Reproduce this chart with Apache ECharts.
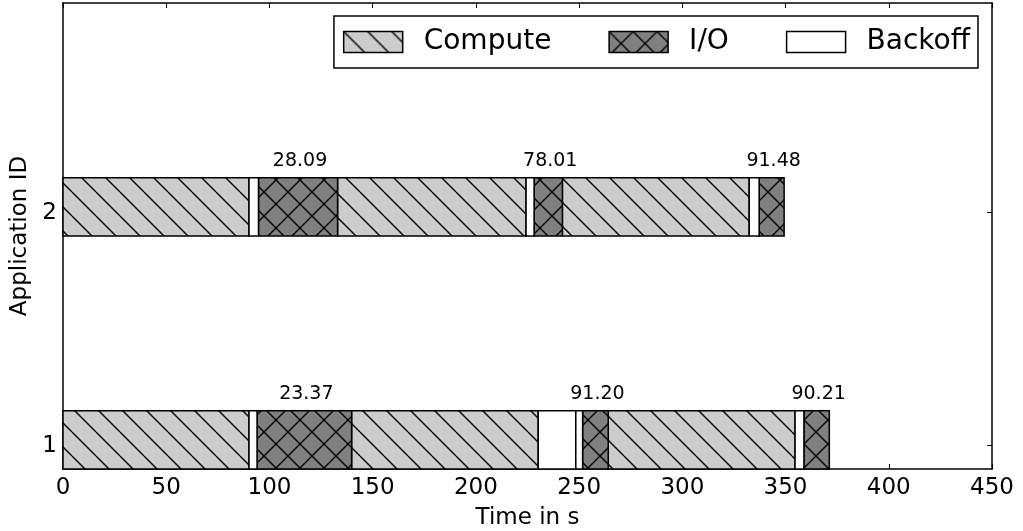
<!DOCTYPE html>
<html>
<head>
<meta charset="utf-8">
<script src="https://cdn.jsdelivr.net/npm/echarts@6/dist/echarts.min.js"></script>
<style>
  html, body { margin: 0; padding: 0; background: #fff; }
  #chart { width: 1023px; height: 531px; }
</style>
</head>
<body>
<div id="chart"></div>
<script>
// y axis: application ids
const appIds = [1, 2]

// segments of application 1, [start, end] in seconds
const compute1 = [[0, 90.1], [139.8, 230.2], [264.1, 354.6]]
const io1 = [[94.0, 139.8], [251.7, 264.1], [358.9, 371.2]]
const backoff1 = [[90.1, 94.0], [230.2, 248.4], [248.4, 251.7], [354.6, 358.9]]
const ioLabels1 = ['23.37', '91.20', '90.21']

// segments of application 2
const compute2 = [[0, 90.1], [133.0, 224.3], [241.9, 332.4]]
const io2 = [[94.7, 133.0], [228.2, 241.9], [337.2, 349.3]]
const backoff2 = [[90.1, 94.7], [224.3, 228.2], [332.4, 337.2]]
const ioLabels2 = ['28.09', '78.01', '91.48']

const FONT = 'DejaVu Sans'

// hatch fill like matplotlib's '\\' and 'x'
function hatch(bg, cross) {
  const s = 24
  const c = document.createElement('canvas')
  c.width = s
  c.height = s
  const ctx = c.getContext('2d')
  ctx.fillStyle = bg
  ctx.fillRect(0, 0, s, s)
  ctx.strokeStyle = '#000'
  ctx.lineWidth = 1.4
  ctx.beginPath()
  for (let k = -1; k <= 1; k++) {
    ctx.moveTo(k * s, 0)
    ctx.lineTo(k * s + s, s)
    if (cross) {
      ctx.moveTo(k * s, s)
      ctx.lineTo(k * s + s, 0)
    }
  }
  ctx.stroke()
  return { image: c, repeat: 'repeat' }
}

const fills = {
  Compute: hatch('#cccccc', false),
  'I/O': hatch('#808080', true),
  Backoff: '#ffffff'
}

function rows(app, segs) {
  return segs.map(s => [app, s[0], s[1]])
}

function makeSeries(name, data, labels) {
  const fill = fills[name]
  return {
    name: name,
    type: 'custom',
    itemStyle: { color: fill, borderColor: '#000', borderWidth: 1.5 },
    encode: { x: [1, 2], y: 0 },
    data: data,
    renderItem: (params, api) => {
      const y = api.value(0)
      const p0 = api.coord([api.value(1), y + 0.15])
      const p1 = api.coord([api.value(2), y - 0.1])
      const rect = {
        type: 'rect',
        shape: { x: p0[0], y: p0[1], width: p1[0] - p0[0], height: p1[1] - p0[1] },
        style: { fill: fill, stroke: '#000', lineWidth: 1.5 }
      }
      if (!labels) return rect
      return {
        type: 'group',
        children: [
          rect,
          {
            type: 'text',
            style: {
              x: (p0[0] + p1[0]) / 2 + 2,
              y: p0[1] - 17,
              text: labels[params.dataIndex],
              fill: '#000',
              font: '19px "' + FONT + '"',
              align: 'center',
              verticalAlign: 'middle'
            }
          }
        ]
      }
    }
  }
}

const chart = echarts.init(document.getElementById('chart'))

const axisLine = { show: true, lineStyle: { color: '#000', width: 1.5 } }
const tickStyle = { inside: true, length: 5, lineStyle: { color: '#000', width: 1 } }

chart.setOption({
  animation: false,
  backgroundColor: '#fff',
  grid: { left: 63, right: 31, top: 3, bottom: 62, containLabel: false, outerBoundsMode: 'none' },
  legend: {
    right: 45,
    top: 16,
    data: ['Compute', 'I/O', 'Backoff'],
    icon: 'rect',
    itemWidth: 59,
    itemHeight: 21,
    itemGap: 57,
    borderColor: '#000',
    borderWidth: 1.5,
    padding: [12, 8, 12, 9],
    selectedMode: false,
    itemStyle: { borderColor: '#000', borderWidth: 1.5 },
    textStyle: { fontSize: 28, color: '#000', fontFamily: FONT, padding: [0, 0, 0, 16] }
  },
  xAxis: [
    {
      type: 'value',
      position: 'bottom',
      min: 0,
      max: 450,
      interval: 50,
      name: 'Time in s',
      nameLocation: 'middle',
      nameGap: 38,
      nameTextStyle: { fontSize: 23, color: '#000', fontFamily: FONT },
      axisLine: { ...axisLine, onZero: false },
      axisTick: tickStyle,
      axisLabel: { fontSize: 23, color: '#000', fontFamily: FONT, margin: 8 },
      splitLine: { show: false }
    },
    {
      type: 'value',
      position: 'top',
      min: 0,
      max: 450,
      interval: 50,
      axisLine: { ...axisLine, onZero: false },
      axisTick: tickStyle,
      axisLabel: { show: false },
      splitLine: { show: false }
    }
  ],
  yAxis: [
    {
      type: 'value',
      position: 'left',
      min: 0.9,
      max: 2.9,
      name: 'Application ID',
      nameLocation: 'middle',
      nameGap: 28,
      nameTextStyle: { fontSize: 23, color: '#000', fontFamily: FONT },
      axisLine: { ...axisLine, onZero: false },
      axisTick: { ...tickStyle, customValues: appIds },
      axisLabel: { fontSize: 23, color: '#000', fontFamily: FONT, margin: 6, customValues: appIds },
      splitLine: { show: false }
    },
    {
      type: 'value',
      position: 'right',
      min: 0.9,
      max: 2.9,
      axisLine: { ...axisLine, onZero: false },
      axisTick: { ...tickStyle, customValues: appIds },
      axisLabel: { show: false },
      splitLine: { show: false }
    }
  ],
  series: [
    makeSeries('Compute', rows(1, compute1).concat(rows(2, compute2))),
    makeSeries('I/O', rows(1, io1).concat(rows(2, io2)), ioLabels1.concat(ioLabels2)),
    makeSeries('Backoff', rows(1, backoff1).concat(rows(2, backoff2)))
  ]
})
</script>
</body>
</html>
